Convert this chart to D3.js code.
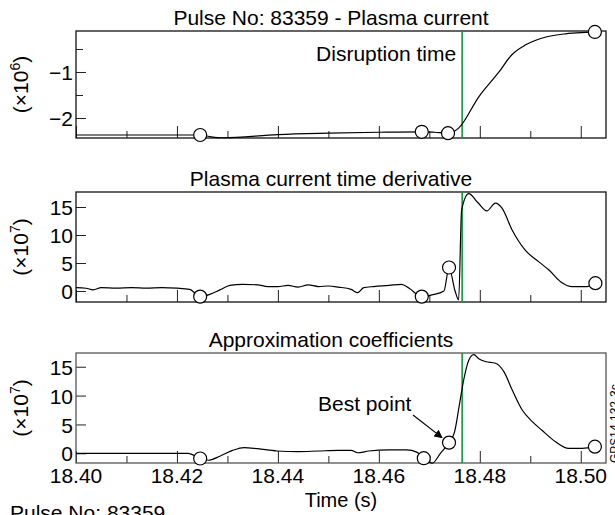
<!DOCTYPE html>
<html>
<head>
<meta charset="utf-8">
<script src="https://d3js.org/d3.v7.min.js"></script>
<style>
body { margin: 0; background: #fff; }
svg { display: block; font-family: "Liberation Sans", Arial, sans-serif; }
</style>
</head>
<body>
<svg id="chart" width="615" height="515"></svg>
<script>

// time axis
var xMajor = [18.40, 18.42, 18.44, 18.46, 18.48, 18.50];
var xMinor = [18.41, 18.43, 18.45, 18.47, 18.49];
var disruptionTime = 18.4765;

// plasma current (x10^6)
var currentT = [18.400, 18.4230, 18.4246, 18.4268, 18.4290, 18.440, 18.450, 18.460, 18.4685, 18.4710, 18.4737,
  18.4758, 18.4798, 18.4838, 18.4863, 18.4891, 18.4931, 18.4970, 18.5010, 18.5028];
var currentV = [-2.37, -2.37, -2.37, -2.41, -2.43, -2.36, -2.33, -2.31, -2.30, -2.31, -2.33,
  -2.22, -1.54, -1.00, -0.63, -0.41, -0.24, -0.17, -0.14, -0.13];
var currentMarkT = [18.4246, 18.4685, 18.4737, 18.5028];
var currentMarkV = [-2.37, -2.30, -2.33, -0.13];

// plasma current time derivative (x10^7)
var derivT = [18.400, 18.402, 18.4034, 18.405, 18.408, 18.411, 18.414, 18.417, 18.420, 18.4225, 18.4246, 18.4265,
  18.4285, 18.4305, 18.433, 18.436, 18.438, 18.440, 18.442, 18.444, 18.446, 18.448, 18.450, 18.452, 18.4545,
  18.4558, 18.457, 18.459, 18.462, 18.4645, 18.466, 18.4685, 18.4705, 18.4729, 18.4739, 18.4751, 18.4758,
  18.4764, 18.4778, 18.4796, 18.4814, 18.4831, 18.4844, 18.4864, 18.489, 18.4917, 18.4937, 18.496, 18.4983,
  18.501, 18.5029];
var derivV = [0.6, 0.5, 0.2, 0.6, 0.5, 0.6, 0.5, 0.6, 0.5, 0.3, -1.0, -0.6,
  0.2, 1.0, 1.2, 1.1, 0.8, 0.8, 1.0, 0.7, 1.1, 0.8, 0.9, 0.7, 0.3,
  -0.3, 0.6, 0.8, 1.0, 1.2, 0.5, -1.0, -0.7, 0.0, 4.2, 0.0, -1.6,
  14.5, 17.4, 15.8, 14.3, 15.7, 14.8, 10.9, 7.3, 5.2, 3.75, 1.66, 0.77,
  0.77, 1.4];
var derivMarkT = [18.4246, 18.4685, 18.4739, 18.5029];
var derivMarkV = [-1.0, -1.0, 4.2, 1.4];

// approximation coefficients (x10^7)
var approxT = [18.400, 18.4222, 18.4246, 18.4262, 18.4285, 18.4310, 18.4333, 18.436, 18.4398, 18.444, 18.448,
  18.452, 18.4545, 18.4558, 18.458, 18.462, 18.4655, 18.4675, 18.4689, 18.4706, 18.4722, 18.4739, 18.4750,
  18.4760, 18.4768, 18.4778, 18.4788, 18.4798, 18.4811, 18.4831, 18.4848, 18.4864, 18.4884, 18.4904, 18.4923,
  18.4950, 18.4976, 18.5003, 18.5028];
var approxV = [0, 0, -0.9, -1.2, -0.5, 0.5, 1.0, 0.8, 0.4, 0.3, 0.4,
  0.5, 0.5, 0.1, 0.4, 0.6, 0.6, 0.2, -0.85, -1.7, 0, 1.85, 3.7,
  8.65, 12.7, 16.1, 17.1, 16.4, 15.9, 15.6, 14.1, 11.0, 7.5, 5.5, 4.0,
  2.0, 0.87, 0.87, 1.15];
var approxMarkT = [18.4246, 18.4689, 18.4739, 18.5028];
var approxMarkV = [-0.9, -0.85, 1.85, 1.15];

var svg = d3.select("#chart");

var x = d3.scaleLinear()
  .domain([18.40, 18.505])
  .range([76, 606]);

function fmt(d) {
  return d < 0 ? "\u2212" + Math.abs(d) : String(d);
}

function drawPanel(p) {
  var y = d3.scaleLinear().domain(p.domain).range([p.bottom, p.top]);
  var g = svg.append("g");

  // title
  g.append("text")
    .attr("x", 331)
    .attr("y", p.top - 6)
    .attr("text-anchor", "middle")
    .style("font-size", "21px")
    .text(p.title);

  // y label (x10^n)
  var lab = g.append("text")
    .attr("transform", "translate(28," + ((p.top + p.bottom) / 2) + ") rotate(-90)")
    .attr("text-anchor", "middle")
    .style("font-size", "21px");
  lab.append("tspan").text("(\u00d710");
  lab.append("tspan").attr("dy", -8).style("font-size", "14px").text(p.power);
  lab.append("tspan").attr("dy", 8).text(")");

  // x ticks, inward
  g.append("g")
    .attr("transform", "translate(0," + p.bottom + ")")
    .call(d3.axisBottom(x).tickValues(xMajor).tickSize(-12).tickFormat(""))
    .call(function(a) { a.select(".domain").remove(); });
  g.append("g")
    .attr("transform", "translate(0," + p.bottom + ")")
    .call(d3.axisBottom(x).tickValues(xMinor).tickSize(-7).tickFormat(""))
    .call(function(a) { a.select(".domain").remove(); });

  // y ticks, inward
  var ya = g.append("g")
    .attr("transform", "translate(76,0)")
    .call(d3.axisLeft(y).tickValues(p.ticks).tickSize(-10).tickPadding(3).tickFormat(fmt));
  ya.select(".domain").remove();
  ya.selectAll("text").style("font-size", "21px").style("font-family", "inherit").attr("dy", "0.36em");
  if (p.minor) {
    g.append("g")
      .attr("transform", "translate(76,0)")
      .call(d3.axisLeft(y).tickValues(p.minor).tickSize(-7).tickFormat(""))
      .call(function(a) { a.select(".domain").remove(); });
  }
  g.selectAll(".tick line").attr("stroke", "#222");

  // frame
  g.append("rect")
    .attr("x", 76)
    .attr("y", p.top)
    .attr("width", 530)
    .attr("height", p.bottom - p.top)
    .attr("fill", "none")
    .attr("stroke", p.frame)
    .attr("stroke-width", 1.3);

  // disruption time
  g.append("line")
    .attr("x1", x(disruptionTime))
    .attr("x2", x(disruptionTime))
    .attr("y1", p.top)
    .attr("y2", p.bottom)
    .attr("stroke", "#0b9a3e")
    .attr("stroke-width", 1.6);

  // curve
  var pts = p.t.map(function(t, i) { return [t, p.v[i]]; });
  var line = d3.line()
    .x(function(d) { return x(d[0]); })
    .y(function(d) { return y(d[1]); })
    .curve(d3.curveMonotoneX);
  g.append("path")
    .datum(pts)
    .attr("d", line)
    .attr("fill", "none")
    .attr("stroke", "#000")
    .attr("stroke-width", 1.2);

  // markers
  var marks = p.markT.map(function(t, i) { return [t, p.markV[i]]; });
  g.selectAll("circle")
    .data(marks)
    .enter()
    .append("circle")
    .attr("cx", function(d) { return x(d[0]); })
    .attr("cy", function(d) { return y(d[1]); })
    .attr("r", 6.5)
    .attr("fill", "#fff")
    .attr("stroke", "#000")
    .attr("stroke-width", 1.2);

  return y;
}

drawPanel({
  title: "Pulse No: 83359 - Plasma current",
  top: 31, bottom: 138,
  domain: [-2.435, -0.109],
  ticks: [-1, -2], minor: [-0.5, -1.5],
  power: "6", frame: "#111",
  t: currentT, v: currentV, markT: currentMarkT, markV: currentMarkV
});

drawPanel({
  title: "Plasma current time derivative",
  top: 192, bottom: 302,
  domain: [-1.96, 17.68],
  ticks: [0, 5, 10, 15],
  power: "7", frame: "#111",
  t: derivT, v: derivV, markT: derivMarkT, markV: derivMarkV
});

var y3 = drawPanel({
  title: "Approximation coefficients",
  top: 353, bottom: 463,
  domain: [-1.68, 17.38],
  ticks: [0, 5, 10, 15],
  power: "7", frame: "#555",
  t: approxT, v: approxV, markT: approxMarkT, markV: approxMarkV
});

// x tick labels under the last panel
svg.append("g")
  .selectAll("text")
  .data(xMajor)
  .enter()
  .append("text")
  .attr("x", function(d) { return x(d); })
  .attr("y", 483)
  .attr("text-anchor", "middle")
  .style("font-size", "21px")
  .text(function(d) { return d.toFixed(2); });

svg.append("text")
  .attr("x", 341)
  .attr("y", 507)
  .attr("text-anchor", "middle")
  .style("font-size", "20px")
  .text("Time (s)");

svg.append("text")
  .attr("x", 10)
  .attr("y", 520)
  .style("font-size", "21px")
  .text("Pulse No: 83359");

// annotations
svg.append("text")
  .attr("x", x(disruptionTime) - 6)
  .attr("y", 61)
  .attr("text-anchor", "end")
  .style("font-size", "21px")
  .text("Disruption time");

svg.append("defs").append("marker")
  .attr("id", "arrow")
  .attr("viewBox", "0 0 10 10")
  .attr("refX", 9)
  .attr("refY", 5)
  .attr("markerWidth", 7)
  .attr("markerHeight", 7)
  .attr("orient", "auto")
  .append("path")
  .attr("d", "M0,0 L10,5 L0,10 Z")
  .attr("fill", "#000");

svg.append("text")
  .attr("x", 318)
  .attr("y", 411)
  .style("font-size", "21px")
  .text("Best point");

svg.append("line")
  .attr("x1", 413)
  .attr("y1", 415)
  .attr("x2", x(approxMarkT[2]) - 7)
  .attr("y2", y3(approxMarkV[2]) - 5)
  .attr("stroke", "#000")
  .attr("stroke-width", 1.2)
  .attr("marker-end", "url(#arrow)");

svg.append("text")
  .attr("transform", "translate(619,463) rotate(-90)")
  .style("font-size", "12px")
  .text("GPS14.132-3c");

</script>
</body>
</html>
